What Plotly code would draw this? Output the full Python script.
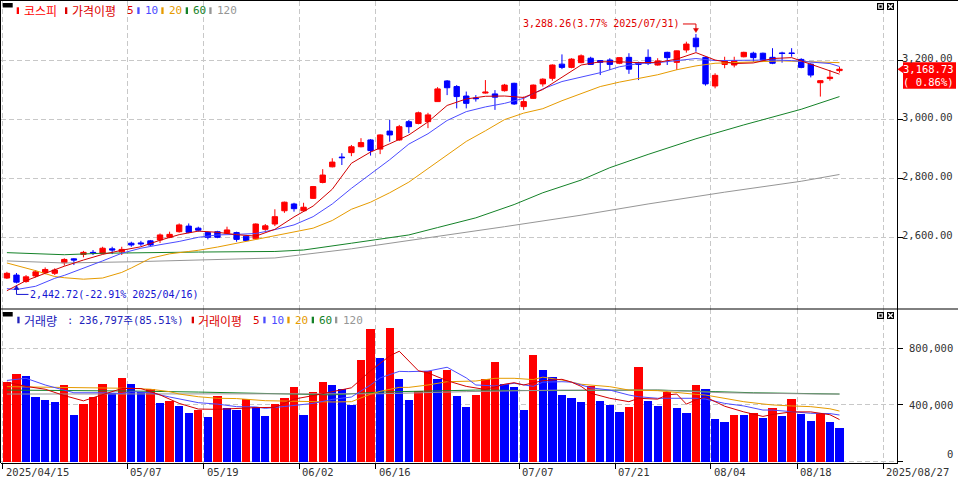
import plotly.graph_objects as go

# ---- trading days on the chart (2025) ----
apr_days = [15, 16, 17, 18, 21, 22, 23, 24, 25, 28, 29, 30]
may_days = [2, 7, 8, 9, 12, 13, 14, 15, 16, 19, 20, 21, 22, 23, 26, 27, 28, 29, 30]
jun_days = [2, 4, 5, 9, 10, 11, 12, 13, 16, 17, 18, 19, 20, 23, 24, 25, 26, 27, 30]
jul_days = [1, 2, 3, 4, 7, 8, 9, 10, 11, 14, 15, 16, 17, 18, 21, 22, 23, 24, 25, 28, 29, 30, 31]
aug_days = [1, 4, 5, 6, 7, 8, 11, 12, 13, 14, 18, 19, 20, 21, 22]
months = [(4, apr_days), (5, may_days), (6, jun_days), (7, jul_days), (8, aug_days)]
dates = [f"2025/{m:02d}/{d:02d}" for m, days in months for d in days]

# ---- 코스피 daily candles ----
open_ = [2461, 2471, 2449, 2468, 2479, 2477, 2513, 2526, 2541, 2548,
         2545, 2560, 2550, 2579, 2580, 2587, 2590, 2599, 2618, 2637,
         2630, 2615, 2618, 2613, 2615, 2603, 2594, 2626, 2644, 2689,
         2712, 2689, 2731, 2785, 2838, 2871, 2886, 2906, 2929, 2898,
         2959, 2929, 2991, 2985, 2991, 3059, 3129, 3110, 3078, 3071,
         3088, 3085, 3096, 3121, 3042, 3070, 3119, 3138, 3186, 3175,
         3191, 3206, 3198, 3200, 3189, 3209, 3191, 3209, 3183, 3226,
         3192, 3234, 3274, 3209, 3112, 3185, 3183, 3211, 3223, 3223,
         3209, 3224, 3224, 3202, 3186, 3123, 3137, 3164]
high = [2482, 2478, 2471, 2488, 2497, 2494, 2528, 2528, 2553, 2556,
        2567, 2567, 2567, 2584, 2587, 2590, 2612, 2618, 2646, 2646,
        2635, 2618, 2621, 2635, 2618, 2607, 2646, 2644, 2694, 2720,
        2716, 2716, 2773, 2830, 2867, 2884, 2912, 2935, 2932, 2948,
        2997, 2980, 2997, 3025, 3021, 3108, 3132, 3115, 3093, 3081,
        3132, 3098, 3119, 3123, 3076, 3117, 3138, 3185, 3219, 3206,
        3219, 3211, 3200, 3206, 3209, 3223, 3194, 3236, 3206, 3228,
        3232, 3262, 3288.26, 3211, 3155, 3211, 3211, 3228, 3228, 3225,
        3240, 3228, 3240, 3206, 3189, 3131, 3166, 3177]
low = [2458, 2442.72, 2445, 2463, 2474, 2471, 2503, 2505, 2531, 2539,
       2542, 2542, 2539, 2567, 2570, 2570, 2580, 2596, 2615, 2613,
       2618, 2592, 2596, 2610, 2584, 2587, 2590, 2621, 2637, 2682,
       2686, 2686, 2729, 2782, 2836, 2844, 2874, 2904, 2876, 2881,
       2923, 2926, 2952, 2982, 2969, 3058, 3081, 3036, 3036, 3059,
       3086, 3031, 3093, 3048, 3031, 3068, 3110, 3130, 3169, 3172,
       3189, 3183, 3149, 3166, 3186, 3153, 3132, 3183, 3181, 3183,
       3166, 3225, 3228, 3113, 3104, 3172, 3175, 3209, 3194, 3197,
       3186, 3191, 3211, 3172, 3141, 3076, 3130, 3157]
close = [2477, 2447, 2465, 2482, 2490, 2488, 2524, 2522, 2548, 2546,
         2562, 2556, 2558, 2573, 2577, 2573, 2607, 2609, 2641, 2616,
         2623, 2599, 2599, 2624, 2592, 2588, 2644, 2638, 2669, 2718,
         2696, 2701, 2771, 2810, 2854, 2869, 2906, 2920, 2893, 2946,
         2946, 2974, 2974, 3021, 3014, 3102, 3106, 3076, 3053, 3069,
         3091, 3074, 3115, 3051, 3059, 3115, 3135, 3183, 3175, 3203,
         3214, 3185, 3192, 3185, 3208, 3169, 3185, 3189, 3197, 3208,
         3231, 3254, 3245, 3119, 3148, 3197, 3198, 3226, 3208, 3200,
         3189, 3222, 3222, 3175, 3149, 3130, 3141.7, 3168.73]

# ---- 거래량 ----
volume = [563000, 617000, 603000, 455000, 434000, 420000, 540000, 328000, 406000, 455000,
          547000, 481000, 589000, 547000, 490000, 509000, 413000, 429000, 392000, 342000,
          365000, 314000, 462000, 375000, 363000, 439000, 382000, 321000, 406000, 448000,
          526000, 328000, 490000, 563000, 540000, 511000, 399000, 716000, 935000, 730000,
          942000, 582000, 434000, 497000, 638000, 582000, 646000, 462000, 385000, 469000,
          582000, 702000, 547000, 526000, 363000, 751000, 646000, 596000, 469000, 449000,
          421000, 533000, 429000, 401000, 351000, 387000, 669000, 429000, 394000, 493000,
          380000, 344000, 540000, 514000, 302000, 279000, 330000, 328000, 344000, 309000,
          380000, 323000, 443000, 333000, 288000, 340000, 276920, 236797]

# ---- price moving averages (bar index, value) ----
ma5_idx = [0, 2, 4, 6, 8, 10, 12, 14, 16, 18, 20, 22, 24, 26, 28, 30, 32, 34, 36, 38, 40, 42, 44,
           46, 48, 50, 52, 54, 56, 58, 60, 62, 64, 66, 68, 70, 72, 74, 76, 78, 80, 82, 84, 86, 87]
ma5 = [2418, 2452, 2477, 2501, 2522, 2541, 2555, 2567, 2589, 2608, 2620, 2616, 2608, 2603, 2626,
       2668, 2705, 2762, 2850, 2888, 2916, 2946, 2990, 3046, 3068, 3077, 3078, 3073, 3100, 3142,
       3183, 3194, 3194, 3191, 3192, 3203, 3225, 3200, 3188, 3190, 3205, 3208, 3186, 3163, 3152]
ma10_idx = [0, 1, 3, 5, 6, 8, 10, 12, 14, 16, 18, 20, 22, 24, 26, 28, 30, 32, 34, 36, 38, 40, 42,
            44, 46, 48, 50, 52, 54, 56, 58, 60, 62, 64, 66, 68, 70, 72, 74, 76, 78, 80, 82, 84, 86, 87]
ma10 = [2425, 2422, 2433, 2460, 2470, 2494, 2519, 2545, 2562, 2574, 2585, 2599, 2607, 2609, 2612,
        2625, 2641, 2669, 2712, 2765, 2812, 2862, 2915, 2950, 2995, 3025, 3041, 3053, 3070, 3102,
        3127, 3143, 3157, 3177, 3188, 3191, 3198, 3205, 3198, 3199, 3200, 3200, 3198, 3194, 3188, 3178]
ma20_idx = [0, 3, 5, 6, 8, 10, 12, 13, 15, 17, 19, 20, 22, 24, 26, 28, 30, 32, 34, 36, 38, 40,
            42, 44, 46, 48, 50, 52, 54, 56, 58, 60, 62, 64, 66, 68, 70, 72, 74, 78, 81, 84, 87]
ma20 = [2512, 2486, 2466, 2462, 2457, 2461, 2480, 2495, 2528, 2543, 2551, 2555, 2566, 2579, 2591,
        2605, 2616, 2630, 2656, 2694, 2718, 2750, 2786, 2833, 2880, 2924, 2960, 2998, 3020, 3035,
        3062, 3085, 3110, 3125, 3137, 3150, 3167, 3180, 3189, 3194, 3197, 3194, 3191]
ma60_idx = [0, 6, 10, 14, 20, 28, 31, 36, 42, 45, 49, 53, 56, 60, 63, 67, 72, 77, 83, 87]
ma60 = [2547, 2540, 2545, 2547, 2549, 2551, 2556, 2579, 2607, 2632, 2665, 2710, 2750, 2793,
        2835, 2880, 2933, 2980, 3033, 3076]
ma120_idx = [0, 6, 13, 20, 28, 36, 44, 52, 60, 67, 75, 83, 87]
ma120 = [2519, 2512, 2516, 2522, 2529, 2560, 2597, 2635, 2674, 2712, 2752, 2789, 2812]

# ---- volume moving averages (bar index, thousands) ----
vma5_idx = [0, 2, 4, 6, 8, 10, 12, 14, 16, 18, 20, 22, 24, 26, 28, 30, 32, 34, 36, 38, 40, 41, 42,
            43, 44, 46, 48, 50, 52, 53, 54, 56, 58, 59, 60, 61, 63, 65, 66, 68, 69, 70, 71, 72, 73,
            74, 75, 77, 79, 80, 82, 84, 85, 86, 87]
vma5 = [560, 530, 510, 465, 428, 470, 515, 515, 470, 410, 370, 368, 375, 380, 382, 440, 465, 490,
        520, 640, 745, 778, 712, 640, 625, 570, 530, 508, 545, 556, 540, 570, 580, 560, 530, 482,
        446, 422, 446, 440, 470, 476, 405, 435, 455, 422, 390, 350, 318, 332, 350, 350, 342, 330, 296]
vma10_idx = [0, 2, 4, 7, 10, 12, 13, 15, 17, 19, 20, 22, 24, 26, 27, 29, 31, 32, 34, 36, 38, 39, 41,
             42, 44, 46, 48, 49, 51, 53, 55, 56, 58, 59, 61, 63, 65, 66, 68, 72, 73, 75, 77, 79, 80,
             82, 84, 86, 87]
vma10 = [572, 587, 540, 485, 485, 480, 493, 485, 455, 430, 415, 405, 387, 385, 375, 388, 406, 410,
         438, 455, 540, 590, 636, 634, 638, 665, 590, 540, 533, 552, 530, 560, 563, 560, 520, 504,
         469, 457, 446, 446, 440, 410, 392, 363, 363, 351, 340, 338, 328]
vma20_idx = [0, 3, 6, 10, 13, 15, 17, 18, 20, 22, 24, 27, 31, 34, 36, 38, 39, 41, 42, 44, 46, 49,
             51, 53, 55, 56, 58, 60, 63, 65, 68, 70, 72, 73, 75, 77, 79, 80, 82, 84, 86, 87]
vma20 = [528, 525, 525, 523, 516, 510, 493, 476, 457, 446, 444, 429, 422, 420, 422, 475, 495, 523,
         523, 540, 563, 568, 587, 587, 578, 595, 575, 545, 528, 504, 500, 485, 474, 469, 446, 422,
         406, 399, 392, 387, 372, 356]
vma60_idx = [0, 7, 13, 20, 27, 34, 39, 49, 56, 61, 68, 74, 78, 87]
vma60 = [504, 502, 497, 490, 481, 470, 490, 504, 500, 500, 504, 493, 485, 476]
vma120_idx = [0, 10, 20, 31, 39, 48, 58, 68, 75, 85, 87]
vma120 = [476, 476, 476, 474, 478, 493, 504, 504, 485, 476, 476]

tick_idx = [0, 13, 21, 31, 39, 54, 64, 74, 83, 92]
tick_text = ["2025/04/15", "05/07", "05/19", "06/02", "06/16", "07/07", "07/21", "08/04", "08/18", "2025/08/27"]
price_ticks = [2600, 2800, 3000, 3200]
vol_ticks = [0, 400000, 800000]

RED = "#ff0000"
BLUE = "#0000ff"
C5, C10, C20, C60, C120 = "#d20000", "#4b4bff", "#e69b00", "#148228", "#969696"
GRID = "#c8c8c8"
MONO = "DejaVu Sans Mono, Noto Sans CJK KR"
KR = "Noto Sans CJK KR"

W, H = 958, 481
L, R, T, B = 1, 897, 1, 463   # plot area in pixels


def px(x):
    return (x - L) / (R - L)


def py(y):
    return (B - y) / (B - T)


xi = list(range(len(dates)))
tick_pos = [i - 0.44 for i in tick_idx]
x_range = [(L - 6.9) / 9.57, (R - 6.9) / 9.57]
split = py(309)

fig = go.Figure()

# price moving averages
for idx, vals, col in [(ma120_idx, ma120, C120), (ma60_idx, ma60, C60), (ma20_idx, ma20, C20),
                       (ma10_idx, ma10, C10), (ma5_idx, ma5, C5)]:
    fig.add_trace(go.Scatter(x=idx, y=vals, mode="lines", line=dict(color=col, width=1),
                             xaxis="x", yaxis="y", hoverinfo="skip"))

fig.add_trace(go.Candlestick(
    x=xi, open=open_, high=high, low=low, close=close, text=dates,
    increasing=dict(line=dict(color=RED, width=1), fillcolor=RED),
    decreasing=dict(line=dict(color=BLUE, width=1), fillcolor=BLUE),
    xaxis="x", yaxis="y"))

# volume
vol_colors = [RED if i == 0 or volume[i] >= volume[i - 1] else BLUE for i in xi]
fig.add_trace(go.Bar(x=xi, y=volume, width=0.87, marker=dict(color=vol_colors, line=dict(width=0)),
                     xaxis="x2", yaxis="y2", hovertext=dates))
for idx, vals, col in [(vma60_idx, vma60, C60), (vma120_idx, vma120, C120), (vma20_idx, vma20, C20),
                       (vma10_idx, vma10, C10), (vma5_idx, vma5, C5)]:
    fig.add_trace(go.Scatter(x=idx, y=[v * 1000 for v in vals], mode="lines",
                             line=dict(color=col, width=1), xaxis="x2", yaxis="y2", hoverinfo="skip"))

ann = []


def text(t, x, y, color, size=10, family=MONO, xref="paper", yref="paper", xanchor="left",
         yanchor="middle", **kw):
    ann.append(dict(text=t, x=x, y=y, xref=xref, yref=yref, xanchor=xanchor, yanchor=yanchor,
                    showarrow=False, font=dict(color=color, size=size, family=family), **kw))


shapes = []


def rect(x0, y0, x1, y1, color):
    shapes.append(dict(type="rect", xref="paper", yref="paper", x0=px(x0), x1=px(x1),
                       y0=py(y0), y1=py(y1), fillcolor=color, line=dict(width=0), layer="above"))


def line(x0, y0, x1, y1, color="black", width=1):
    shapes.append(dict(type="line", xref="paper", yref="paper", x0=px(x0), x1=px(x1),
                       y0=py(y0), y1=py(y1), line=dict(color=color, width=width), layer="above"))


# frame
line(0, 0.5, W, 0.5)
line(0.5, 0, 0.5, B)
line(0, 309, W, 309)

# panel icons
for top in (3, 312):
    rect(2.7, top, 12.7, top + 4.5, "black")
    rect(877, top, 884, top + 7, "black")
    rect(878.2, top + 1.2, 882.8, top + 5.8, "white")
    rect(879.3, top + 2.3, 881.7, top + 4.7, "black")
    rect(887, top, 894, top + 7, "black")
    line(888.3, top + 1.3, 892.7, top + 5.7, "white", 1.3)
    line(888.3, top + 5.7, 892.7, top + 1.3, "white", 1.3)

# price legend
for mx, t, tx, col, fam, size in [(16.7, "코스피", 22, RED, KR, 12),
                                  (65, "가격이평", 69.5, "#dc0000", KR, 12),
                                  (None, "5", 125, "#dc0000", MONO, 11),
                                  (137.3, "10", 143, C10, MONO, 11),
                                  (161.3, "20", 167, C20, MONO, 11),
                                  (185.7, "60", 191, C60, MONO, 11),
                                  (209.3, "120", 214.5, C120, MONO, 11)]:
    if mx is not None:
        rect(mx, 7.3, mx + 2.3, 14, col)
    text(t, px(tx), py(10.7), col, size, fam)

# volume legend
vol_txt = f"{volume[-1]:,}주({volume[-1] / volume[-2] * 100:.2f}%)"
for mx, t, tx, col, fam, size in [(17.3, "거래량", 22, "#2222bb", KR, 12),
                                  (None, ":", 64.5, "#2222bb", MONO, 10.5),
                                  (None, vol_txt, 76.5, "#2222bb", MONO, 10.5),
                                  (191.7, "거래이평", 195.5, "#dc0000", KR, 12),
                                  (None, "5", 251, "#dc0000", MONO, 11),
                                  (263.3, "10", 269, C10, MONO, 11),
                                  (287.3, "20", 292.5, C20, MONO, 11),
                                  (311.7, "60", 316.5, C60, MONO, 11),
                                  (335, "120", 340.5, C120, MONO, 11)]:
    if mx is not None:
        rect(mx, 316.7, mx + 2.3, 323.3, col)
    text(t, px(tx), py(320), col, size, fam)

# date labels
for pos, t in zip(tick_pos, tick_text):
    text(t, pos, py(471.5), "#333333", 10.5, xref="x2", xshift=1)

# right axis labels
for v in price_ticks:
    text(f"{v:,.2f}", px(955), v, "#333333", 10.5, xref="paper", yref="y", xanchor="right", yshift=2)
for v in vol_ticks:
    text(f"{v:,}", px(955), v, "#333333", 10.5, xref="paper", yref="y2", xanchor="right",
         yanchor="bottom" if v == 0 else "middle")

# current price box
last = close[-1]
chg = (close[-1] / close[-2] - 1) * 100
shapes.append(dict(type="rect", xref="paper", x0=px(903), x1=px(956), yref="y", ysizemode="pixel",
                   yanchor=last, y0=-19.5, y1=7, fillcolor=RED, line=dict(width=0), layer="above"))
shapes.append(dict(type="path", xref="paper", xsizemode="pixel", xanchor=px(897.5), yref="y",
                   ysizemode="pixel", yanchor=last, path="M0,0 L6.5,4.5 L6.5,-4.5 Z",
                   fillcolor=RED, line=dict(width=0), layer="above"))
text(f"{last:,.2f}", px(956), last, "white", 10.5, yref="y", xanchor="right")
text(f"({chg:5.2f}%)", px(956), last, "white", 10.5, yref="y", xanchor="right", yshift=-12.7)

# highest / lowest markers
i_hi = high.index(max(high))
i_lo = low.index(min(low))
hi_txt = f"{high[i_hi]:,.2f}({(high[i_hi] / last - 1) * 100:.2f}% {dates[i_hi]})"
lo_txt = f"{low[i_lo]:,.2f}({(low[i_lo] / last - 1) * 100:.2f}% {dates[i_lo]})"
text(hi_txt, i_hi, high[i_hi], "#e00000", 10, xref="x", yref="y", xanchor="right", xshift=-14, yshift=10)
text(lo_txt, i_lo, low[i_lo], "#1414d2", 10, xref="x", yref="y", xanchor="left", xshift=12, yshift=-11)
for i, p, col, path, head in [
        (i_hi, high[i_hi], "#e00000", "M-13,10 L0,10 L0,3", "M-2.5,5.5 L2.5,5.5 L0,1.5 Z"),
        (i_lo, low[i_lo], "#1414d2", "M0,-3 L0,-11 L12,-11", "M-2.5,-6 L2.5,-6 L0,-2 Z")]:
    shapes.append(dict(type="path", xref="x", xsizemode="pixel", xanchor=i, yref="y",
                       ysizemode="pixel", yanchor=p, path=path, line=dict(color=col, width=1),
                       layer="above"))
    shapes.append(dict(type="path", xref="x", xsizemode="pixel", xanchor=i, yref="y",
                       ysizemode="pixel", yanchor=p, path=head, fillcolor=col,
                       line=dict(color=col, width=0.5), layer="above"))

grid = dict(showgrid=True, gridcolor=GRID, gridwidth=1, griddash="5px,3px", zeroline=False)
fig.update_layout(
    width=W, height=H,
    margin=dict(l=L, r=W - R, t=T, b=H - B, pad=0),
    paper_bgcolor="white", plot_bgcolor="white",
    showlegend=False, boxgap=0.2, bargap=0,
    xaxis=dict(domain=[0, 1], anchor="y", range=x_range, tickvals=tick_pos, showticklabels=False,
               ticks="", rangeslider=dict(visible=False), fixedrange=True, **grid),
    xaxis2=dict(domain=[0, 1], anchor="y2", matches="x", range=x_range, tickvals=tick_pos,
                showticklabels=False, ticks="outside", ticklen=5, tickcolor="black", tickwidth=1,
                showline=True, linecolor="black", linewidth=1, fixedrange=True, **grid),
    yaxis=dict(domain=[split, 1], anchor="x", side="right", range=[2356, 3400], tickvals=price_ticks,
               showticklabels=False, ticks="outside", ticklen=5, tickcolor="black",
               showline=True, linecolor="black", linewidth=1, fixedrange=True, **grid),
    yaxis2=dict(domain=[0, split], anchor="x2", side="right", range=[-10600, 1076000],
                tickvals=vol_ticks, showticklabels=False, ticks="outside", ticklen=5,
                tickcolor="black", showline=True, linecolor="black", linewidth=1,
                fixedrange=True, **grid),
    annotations=ann,
    shapes=shapes,
)

# the page body gets no default margin so the chart sits at the window's corner
fig.write_html("out.html", config={"displayModeBar": False},
               post_script="document.body.style.margin='0';document.body.style.overflow='hidden';")
